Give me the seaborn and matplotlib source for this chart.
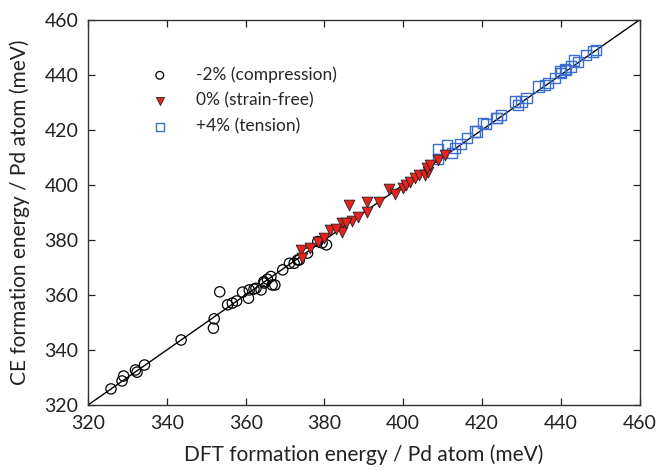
import seaborn as sns
import matplotlib.pyplot as plt
import pandas as pd

# -2% compression (DFT, CE)
comp_dft = [325.8, 328.6, 329.0, 332.0, 332.4, 334.3, 343.6, 352.0, 351.8, 353.4,
            355.4, 356.6, 357.7, 359.2, 360.7, 360.9, 362.1, 363.9, 364.6, 366.7,
            362.6, 364.7, 365.5, 366.4, 367.4, 369.4, 371.1, 372.3, 373.2, 373.6,
            375.7, 378.3, 380.5, 379.4]
comp_ce = [325.8, 328.7, 330.5, 332.7, 331.9, 334.5, 343.6, 351.3, 347.9, 361.1,
           356.4, 357.0, 357.8, 361.0, 358.8, 361.8, 362.1, 361.8, 364.8, 363.6,
           362.4, 364.3, 365.7, 366.7, 363.6, 369.1, 371.5, 371.5, 372.7, 372.7,
           375.2, 379.4, 378.2, 378.9]

# 0% strain-free
free_dft = [374.1, 374.4, 376.2, 378.3, 380.0, 381.5, 384.4, 384.4, 386.2, 387.0,
            390.8, 390.8, 393.8, 396.3, 398.0, 399.9, 400.8, 401.6, 402.9, 404.1,
            405.4, 406.2, 406.0, 406.9, 408.8, 410.7, 383.0, 385.5, 388.5]
free_ce = [376.4, 373.3, 377.0, 379.4, 380.6, 383.6, 386.1, 383.0, 392.7, 386.7,
           393.7, 390.3, 393.7, 398.5, 396.7, 398.8, 400.0, 401.2, 402.4, 403.6,
           403.6, 404.8, 406.1, 407.3, 409.1, 410.9, 384.0, 386.0, 388.2]

# +4% tension
tens_dft = [408.8, 411.1, 412.4, 413.2, 414.5, 416.2, 418.3, 418.7, 420.3, 421.0,
            423.7, 423.8, 424.9, 428.3, 429.2, 430.0, 431.3, 434.3, 435.9, 436.8,
            438.5, 439.8, 440.1, 441.1, 441.4, 442.6, 443.4, 444.3, 446.4, 448.1,
            448.9, 408.8]
tens_ce = [413.0, 414.5, 411.5, 413.3, 414.9, 417.0, 419.4, 419.4, 422.4, 422.2,
           424.2, 424.2, 425.5, 430.3, 429.1, 430.3, 431.5, 435.8, 436.4, 437.0,
           438.8, 441.2, 440.6, 442.1, 441.8, 443.0, 445.2, 444.8, 447.3, 448.5,
           449.1, 409.3]

labels = ['-2% (compression)', '0% (strain-free)', '+4% (tension)']
ticks = [320, 340, 360, 380, 400, 420, 440, 460]

df_comp = pd.DataFrame({'dft': comp_dft, 'ce': comp_ce})
df_free = pd.DataFrame({'dft': free_dft, 'ce': free_ce})
df_tens = pd.DataFrame({'dft': tens_dft, 'ce': tens_ce})

sns.set_style('ticks')
plt.rcParams['font.family'] = ['Lato', 'DejaVu Sans']

fig = plt.figure(figsize=(6.58, 4.73), dpi=100)
ax = fig.add_axes([0.134, 0.144, 0.838, 0.814])

ax.axline((320, 320), slope=1, color='black', lw=1.0, zorder=1)

sns.scatterplot(data=df_comp, x='dft', y='ce', ax=ax, marker='o', s=55,
                facecolor='none', edgecolor='black', linewidth=0.9,
                label=labels[0], zorder=3)
sns.scatterplot(data=df_free, x='dft', y='ce', ax=ax, marker='v', s=60,
                color='#e8231f', edgecolor='#222222', linewidth=0.6,
                label=labels[1], zorder=4)
sns.scatterplot(data=df_tens, x='dft', y='ce', ax=ax, marker='s', s=55,
                facecolor='none', edgecolor='#3a6fd0', linewidth=1.0,
                label=labels[2], zorder=2)

ax.set_xlim(320, 460)
ax.set_ylim(320, 460)
ax.set_xticks(ticks)
ax.set_yticks(ticks)
ax.tick_params(direction='in', length=5, width=0.9, labelsize=14,
               top=True, right=True, pad=7, colors='#222222')
for sp in ax.spines.values():
    sp.set_color('#333333')
    sp.set_linewidth(1.0)

ax.set_xlabel('DFT formation energy / Pd atom (meV)', fontsize=15,
              color='#222222', labelpad=9)
ax.set_ylabel('CE formation energy / Pd atom (meV)', fontsize=15,
              color='#222222', labelpad=10)

ax.legend(loc='upper left', bbox_to_anchor=(0.07, 0.92), frameon=False,
          fontsize=12.5, labelspacing=0.55, handletextpad=1.1,
          markerscale=0.75)

fig.savefig('out.png', dpi=100)
